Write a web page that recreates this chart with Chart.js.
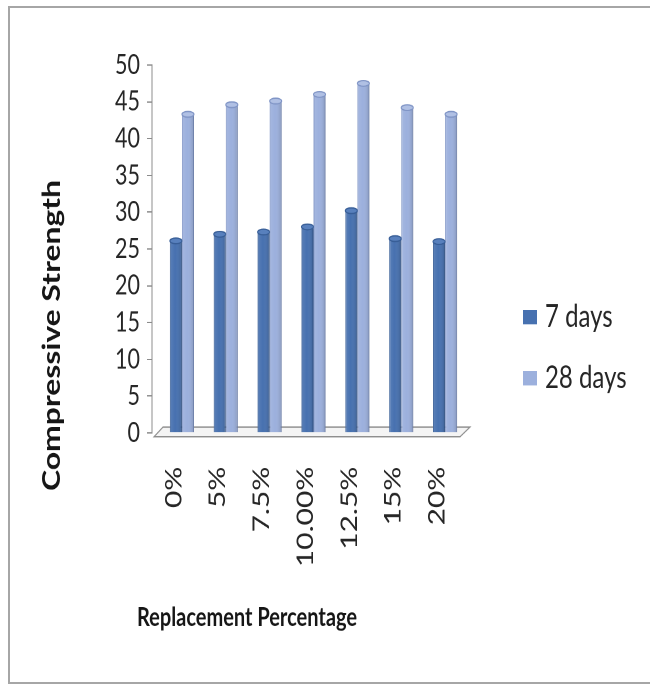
<!DOCTYPE html>
<html>
<head>
<meta charset="utf-8">
<script src="https://cdn.jsdelivr.net/npm/chart.js@4/dist/chart.umd.min.js"></script>
<style>
  html, body { margin: 0; padding: 0; background: #fff; overflow: hidden; }
  #frame {
    position: absolute; left: 8px; top: 6px; width: 700px; height: 674px;
    border: 2px solid #a6a6a6; border-right: none;
  }
  /* the chart is laid out on a 650x526 canvas and stretched vertically */
  #stage {
    position: absolute; left: 0; top: 0; width: 650px; height: 526px;
    transform: scaleY(1.3); transform-origin: 0 0;
  }
</style>
</head>
<body>
<div id="frame"></div>
<div id="stage"><canvas id="c"></canvas></div>
<script>
// Replacement percentage categories
const categories = ['0%', '5%', '7.5%', '10.00%', '12.5%', '15%', '20%'];
// Compressive strength per curing age
const days7  = [26.1, 27.0, 27.3, 28.0, 30.2, 26.4, 26.0];
const days28 = [43.3, 44.6, 45.1, 46.0, 47.5, 44.2, 43.3];
const seriesNames = ['7 days', '28 days'];
// Value axis range
const yMin = 0, yMax = 50, yStep = 5;
const xTitle = 'Replacement Percentage';
const yTitle = 'Compressive Strength';

const DEPTH_X = 8;     // horizontal shift of the columns into the 3D floor
const CAP_RY = 2.2;    // radius of the column tops

const colors = {
  dark:  { fill: '#4771b0', edge: '#385e97', cap: '#5880bd' },
  light: { fill: '#9cb0dd', edge: '#8095c6', cap: '#b0c0e4' }
};

const columns3d = {
  id: 'columns3d',
  beforeDatasetsDraw(chart) {
    const { ctx, chartArea: a } = chart;
    // floor of the 3D plot
    ctx.save();
    ctx.beginPath();
    ctx.moveTo(a.left + 2, a.bottom + 3);
    ctx.lineTo(a.right + 1, a.bottom + 3);
    ctx.lineTo(a.right + 11, a.bottom - 4.5);
    ctx.lineTo(a.left + 11, a.bottom - 4.5);
    ctx.closePath();
    ctx.fillStyle = '#f4f4f4';
    ctx.fill();
    ctx.strokeStyle = '#8e8e8e';
    ctx.lineWidth = 1;
    ctx.stroke();
    ctx.restore();
    ctx.save();
    ctx.translate(DEPTH_X, 0);
  },
  afterDatasetsDraw(chart) {
    const { ctx } = chart;
    chart.data.datasets.forEach((ds, di) => {
      const meta = chart.getDatasetMeta(di);
      const pal = di === 0 ? colors.dark : colors.light;
      meta.data.forEach(bar => {
        const l = bar.x - bar.width / 2, w = bar.width;
        const h = bar.base - bar.y;
        // side shading
        const g = ctx.createLinearGradient(l, 0, l + w, 0);
        g.addColorStop(0, 'rgba(255,255,255,0.10)');
        g.addColorStop(0.45, 'rgba(255,255,255,0.0)');
        g.addColorStop(1, 'rgba(0,0,0,0.16)');
        ctx.fillStyle = g;
        ctx.fillRect(l, bar.y, w, h);
        // rounded top
        ctx.beginPath();
        ctx.ellipse(bar.x, bar.y, w / 2, CAP_RY, 0, 0, Math.PI * 2);
        ctx.fillStyle = pal.cap;
        ctx.fill();
        ctx.strokeStyle = pal.edge;
        ctx.lineWidth = 1;
        ctx.stroke();
      });
    });
    ctx.restore();
  },
  afterDraw(chart) {
    const { ctx, chartArea: a } = chart;
    ctx.save();
    ctx.fillStyle = '#161616';
    ctx.textAlign = 'center';
    ctx.textBaseline = 'middle';
    ctx.font = 'bold 20px Lato';
    ctx.fillText(xTitle, a.left + 95, a.bottom + 142);
    ctx.save();
    ctx.translate(a.left - 100, a.bottom - 75);
    ctx.rotate(-Math.PI / 2);
    ctx.font = 'bold 24.5px Lato';
    ctx.fillText(yTitle, 0, 0);
    ctx.restore();
    // legend
    ctx.textAlign = 'left';
    ctx.font = '24px Lato';
    chart.data.datasets.forEach((ds, i) => {
      const cy = a.top + 194 + i * 47;
      const bx = a.right + 64;
      ctx.fillStyle = ds.backgroundColor;
      ctx.fillRect(bx, cy - 5.5, 14, 11);
      ctx.fillStyle = '#262626';
      ctx.fillText(ds.label, bx + 22, cy);
    });
    ctx.restore();
  }
};

new Chart(document.getElementById('c'), {
  type: 'bar',
  data: {
    labels: categories,
    datasets: [
      { label: seriesNames[0], data: days7, backgroundColor: colors.dark.fill,
        borderColor: colors.dark.edge, borderWidth: 1,
        categoryPercentage: 0.55, barPercentage: 1.0 },
      { label: seriesNames[1], data: days28, backgroundColor: colors.light.fill,
        borderColor: colors.light.edge, borderWidth: 1,
        categoryPercentage: 0.55, barPercentage: 1.0 }
    ]
  },
  options: {
    responsive: true,
    maintainAspectRatio: false,
    animation: false,
    devicePixelRatio: 2,
    layout: { padding: { left: 80, top: 50, right: 191, bottom: 0 } },
    plugins: { legend: { display: false }, tooltip: { enabled: false } },
    scales: {
      x: {
        grid: { display: false, drawTicks: false },
        border: { display: false },
        ticks: { minRotation: 90, maxRotation: 90, autoSkip: false, padding: 26,
                 color: '#262626', font: { family: 'Lato', size: 23 } },
        afterFit(s) { s.height = 193; }
      },
      y: {
        min: yMin, max: yMax,
        ticks: { stepSize: yStep, padding: 7, autoSkip: false, color: '#262626',
                 font: { family: 'Lato', size: 21.5 } },
        grid: { drawOnChartArea: false, drawTicks: true, tickLength: 5, color: '#8c8c8c' },
        border: { display: true, color: '#8c8c8c', width: 1 },
        afterFit(s) { s.width = 72; }
      }
    }
  },
  plugins: [columns3d]
});
</script>
</body>
</html>
